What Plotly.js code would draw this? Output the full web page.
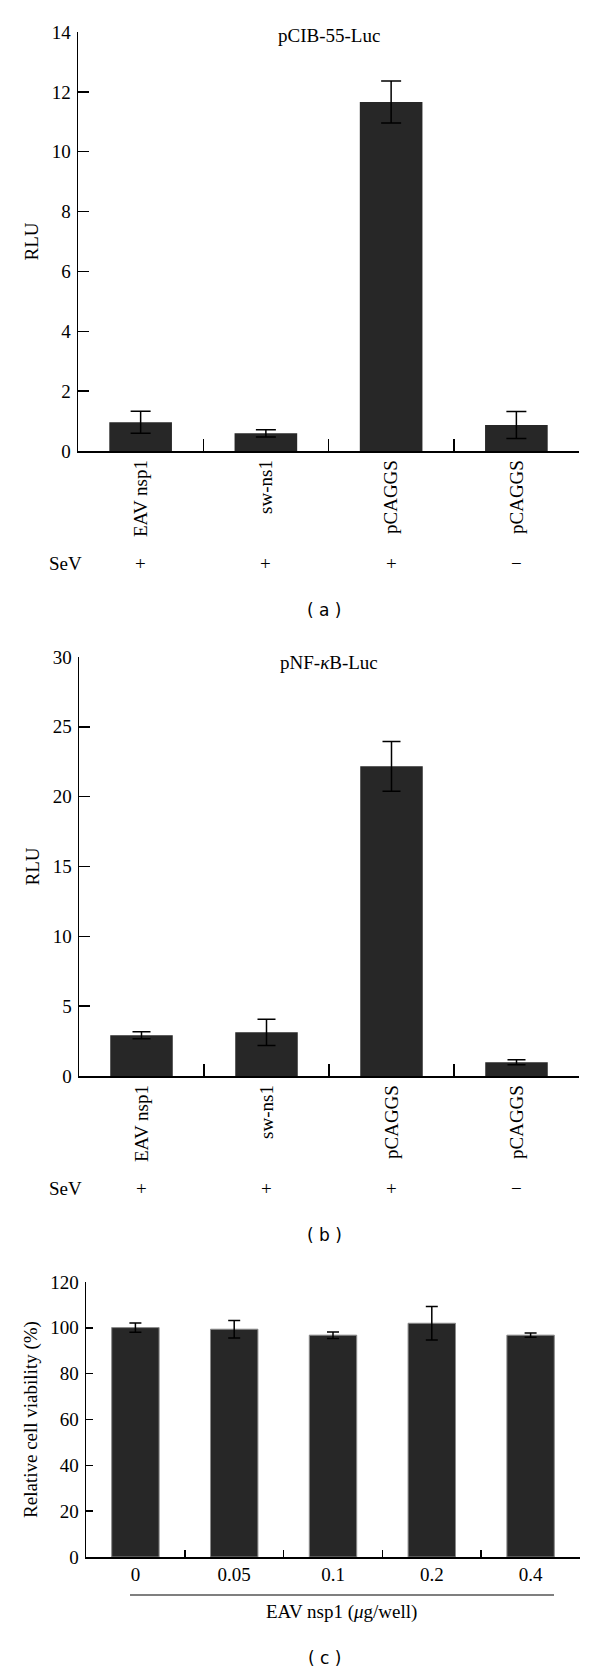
<!DOCTYPE html>
<html><head><meta charset="utf-8">
<script src="https://cdn.plot.ly/plotly-3.0.1.min.js"></script>
<style>html,body{margin:0;padding:0;background:#fff}</style>
</head><body><div id="chart" style="width:600px;height:1674px"></div>
<script>
// ---- data ----
const catLabels = ['EAV nsp1', 'sw-ns1', 'pCAGGS', 'pCAGGS'];
const catIds = ['EAV nsp1', 'sw-ns1', 'pCAGGS (SeV+)', 'pCAGGS (SeV−)'];
const sevSigns = ['+', '+', '+', '−'];
const rluA = [0.96, 0.59, 11.66, 0.87];
const errA = [0.37, 0.12, 0.70, 0.45];
const rluB = [2.91, 3.13, 22.17, 0.98];
const errB = [0.25, 0.94, 1.78, 0.18];
const doses = ['0', '0.05', '0.1', '0.2', '0.4'];
const viability = [100.1, 99.4, 96.8, 102.0, 96.8];
const errC = [2.0, 3.8, 1.4, 7.3, 0.9];

// ---- styling ----
const serif = 'Liberation Serif, Times New Roman, serif';
const sans = 'DejaVu Sans, Verdana, sans-serif';
const tf = {family: serif, size: 19, color: '#000'};
const barColor = '#272727';

function bar(x, y, err, xa, ya, w, cap, line) {
  return {
    type: 'bar', x: x, y: y, xaxis: xa, yaxis: ya, width: w,
    marker: {color: barColor, line: line || {width: 0}},
    error_y: {type: 'data', array: err, visible: true, color: '#000', thickness: 1.5, width: cap},
    hoverinfo: 'x+y', showlegend: false
  };
}

const data = [
  bar(catIds, rluA, errA, 'x', 'y', 0.5, 10),
  bar(catIds, rluB, errB, 'x2', 'y2', 0.5, 9),
  bar(doses, viability, errC, 'x3', 'y3', 0.48, 6, {color: '#8a8a8a', width: 1})
];

function xCat(domain, anchor, ids, labels, ticklen, angle) {
  return {
    domain: domain, anchor: anchor, type: 'category', categoryorder: 'array', categoryarray: ids,
    tickmode: 'array', tickvals: ids, ticktext: labels, tickson: 'boundaries',
    ticks: 'inside', ticklen: ticklen, tickwidth: 1.5, tickcolor: '#000',
    showline: true, linecolor: '#000', linewidth: 1.5, showgrid: false, zeroline: false,
    tickangle: angle, tickfont: tf, range: [-0.5, ids.length - 0.5], fixedrange: true
  };
}
function yLin(domain, anchor, range, dtick, ticklen, title, standoff) {
  return {
    domain: domain, anchor: anchor, range: range, dtick: dtick, tick0: 0,
    ticks: 'inside', ticklen: ticklen, tickwidth: 1.5, tickcolor: '#000',
    showline: true, linecolor: '#000', linewidth: 1.5, showgrid: false, zeroline: false,
    tickfont: tf, ticklabelstandoff: 2, fixedrange: true,
    title: {text: title, font: tf, standoff: standoff}
  };
}

const annotations = [];
function txt(text, x, y, xref, font) {
  annotations.push({text: text, x: x, y: y, xref: xref || 'paper', yref: 'paper',
    showarrow: false, xanchor: 'center', yanchor: 'middle', font: font || tf});
}
// panel titles
txt('pCIB-55-Luc', 0.548, 1 - 36 / 1674);
txt('pNF-<i>κ</i>B-Luc', 0.548, 1 - 662 / 1674);
// SeV rows
txt('SeV', 65 / 600, 1 - 563 / 1674);
txt('SeV', 65 / 600, 1 - 1188 / 1674);
catIds.forEach((c, i) => {
  txt(sevSigns[i], c, 1 - 563 / 1674, 'x');
  txt(sevSigns[i], c, 1 - 1188 / 1674, 'x2');
});
// x title of panel c (centered under the underline)
txt('EAV nsp1 (<i>μ</i>g/well)', 341 / 600, 1 - 1612 / 1674);
// panel letters
const pf = {family: sans, size: 17, color: '#000'};
txt('( a )', 0.54, 1 - 610 / 1674, 'paper', pf);
txt('( b )', 0.54, 1 - 1235 / 1674, 'paper', pf);
txt('( c )', 0.54, 1 - 1658 / 1674, 'paper', pf);

const layout = {
  width: 600, height: 1674, margin: {l: 0, r: 0, t: 0, b: 0},
  paper_bgcolor: '#fff', plot_bgcolor: 'rgba(0,0,0,0)',
  font: tf, showlegend: false, bargap: 0.5,
  xaxis: xCat([78 / 600, 579 / 600], 'y', catIds, catLabels, 12, -90),
  yaxis: yLin([1 - 451 / 1674, 1 - 32 / 1674], 'x', [0, 14], 2, 11, 'RLU', 8),
  xaxis2: xCat([79 / 600, 579 / 600], 'y2', catIds, catLabels, 12, -90),
  yaxis2: yLin([1 - 1076 / 1674, 1 - 657 / 1674], 'x2', [0, 30], 5, 11, 'RLU', 8),
  xaxis3: xCat([86 / 600, 580 / 600], 'y3', doses, doses, 7, 0),
  yaxis3: yLin([1 - 1557 / 1674, 1 - 1282 / 1674], 'x3', [0, 120], 20, 7, 'Relative cell viability (%)', 7),
  shapes: [{type: 'line', xref: 'paper', yref: 'paper', x0: 130 / 600, x1: 554 / 600,
    y0: 1 - 1595 / 1674, y1: 1 - 1595 / 1674, line: {color: '#000', width: 1.2}}],
  annotations: annotations
};

Plotly.newPlot('chart', data, layout, {displayModeBar: false, staticPlot: true});
</script></body></html>
